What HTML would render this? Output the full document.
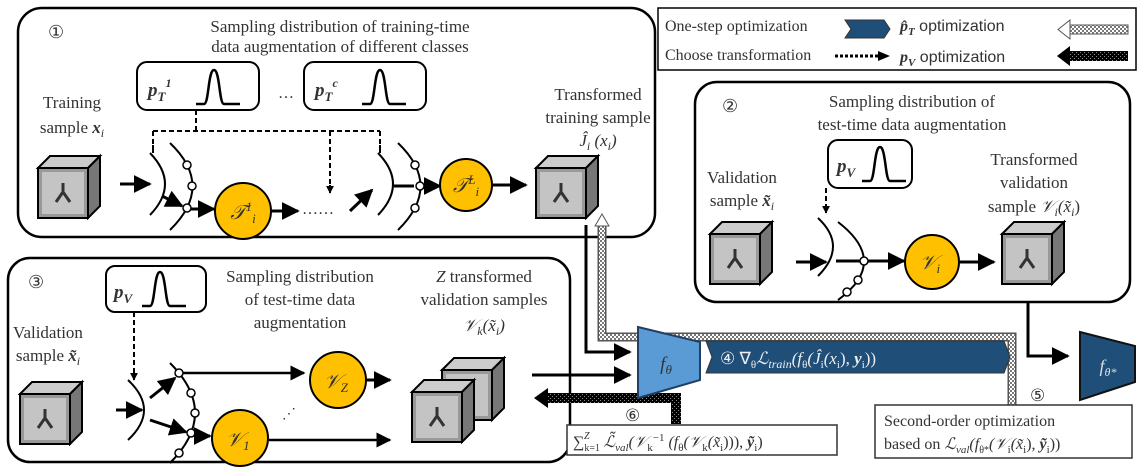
<!DOCTYPE html>
<html><head><meta charset="utf-8"><style>
body{margin:0;background:#fff}
svg{display:block}
text{font-family:"Liberation Serif",serif;fill:#333}
.m{font-style:italic}
</style></head><body>
<svg width="1140" height="469" viewBox="0 0 1140 469" xmlns="http://www.w3.org/2000/svg">
<defs>
<marker id="a" viewBox="0 0 10 10" refX="9" refY="5" markerWidth="4" markerHeight="4" orient="auto"><path d="M0,0L10,5L0,10z" fill="#000"/></marker>
<marker id="s" viewBox="0 0 10 10" refX="9" refY="5" markerWidth="6" markerHeight="6" orient="auto"><path d="M0,0L10,5L0,10z" fill="#000"/></marker>
<pattern id="h" width="4" height="4" patternUnits="userSpaceOnUse"><rect width="4" height="4" fill="#fff"/><rect width="2" height="2" fill="#777"/><rect x="2" y="2" width="2" height="2" fill="#777"/></pattern>
<pattern id="k" width="4" height="4" patternUnits="userSpaceOnUse"><rect width="4" height="4" fill="#000"/><rect width="1" height="1" fill="#888"/><rect x="2" y="2" width="1" height="1" fill="#888"/></pattern>
<g id="cube">
<path d="M0,12L12,0H62L50,12z" fill="#ccc" stroke="#000" stroke-width="2"/>
<path d="M50,12L62,0V50L50,62z" fill="#777" stroke="#000" stroke-width="2"/>
<rect x="0" y="12" width="50" height="50" fill="#999" stroke="#000" stroke-width="2"/>
<rect x="4" y="16" width="42" height="42" fill="#c4c4c4"/>
<path d="M25,36 l-7,10 M25,36 l7,10 M25,36 v-9" stroke="#333" stroke-width="3"/>
</g>
<g id="dist"><path d="M0,34 H8 C13,34 12,0 18,0 C24,0 23,34 28,34 H44" fill="none" stroke="#000" stroke-width="2.5"/></g>
</defs>

<!-- Box 1 -->
<rect x="18" y="8" width="637" height="229" rx="24" fill="none" stroke="#000" stroke-width="2.5"/>
<text x="48" y="38" font-size="18">①</text>
<text x="340" y="32" font-size="17" text-anchor="middle">Sampling distribution of training-time</text>
<text x="340" y="52" font-size="17" text-anchor="middle">data augmentation of different classes</text>
<rect x="137" y="62" width="122" height="48" rx="10" fill="#fff" stroke="#000" stroke-width="2"/>
<text x="148" y="96" font-size="19" class="m" font-weight="bold">p<tspan font-size="13" dy="5">T</tspan><tspan font-size="12" dy="-14">1</tspan></text>
<use href="#dist" x="196" y="70"/>
<text x="278" y="98" font-size="16">…</text>
<rect x="304" y="62" width="122" height="48" rx="10" fill="#fff" stroke="#000" stroke-width="2"/>
<text x="315" y="96" font-size="19" class="m" font-weight="bold">p<tspan font-size="13" dy="5">T</tspan><tspan font-size="12" dy="-14">c</tspan></text>
<use href="#dist" x="362" y="70"/>
<text x="72" y="108" font-size="17" text-anchor="middle">Training</text>
<text x="72" y="133" font-size="17" text-anchor="middle">sample <tspan class="m" font-weight="bold">x</tspan><tspan class="m" font-size="12" dy="4">i</tspan></text>
<text x="598" y="100" font-size="17" text-anchor="middle">Transformed</text>
<text x="598" y="123" font-size="17" text-anchor="middle">training sample</text>
<text x="598" y="146" font-size="17" text-anchor="middle" class="m">Ĵ<tspan font-size="12" dy="4">i</tspan><tspan dy="-4"> (x</tspan><tspan font-size="12" dy="4">i</tspan><tspan dy="-4">)</tspan></text>
<use href="#cube" x="38" y="156"/>
<use href="#cube" x="536" y="156"/>
<path d="M196,110V131M153,131H380M153,131V150M380,131V150M330,131V190" stroke="#000" stroke-width="2" stroke-dasharray="5,3" fill="none"/>
<path d="M153,145v8M380,145v8M330,185v8" stroke="#000" stroke-width="2" marker-end="url(#a)"/>
<!-- switch 1 -->
<path d="M150,153 Q180,184 150,215" fill="none" stroke="#000" stroke-width="2"/>
<path d="M170,143 Q215,186 170,230" fill="none" stroke="#000" stroke-width="2"/>
<circle cx="187" cy="165" r="4" fill="#fff" stroke="#000" stroke-width="1.5"/>
<circle cx="192" cy="186" r="4" fill="#fff" stroke="#000" stroke-width="1.5"/>
<circle cx="187" cy="208" r="4" fill="#fff" stroke="#000" stroke-width="1.5"/>
<path d="M120,184H150" stroke="#000" stroke-width="3" marker-end="url(#s)"/>
<path d="M162,196L182,206" stroke="#000" stroke-width="3" marker-end="url(#s)"/>
<path d="M191,209H214" stroke="#000" stroke-width="3" marker-end="url(#s)"/>
<circle cx="243" cy="211" r="28" fill="#ffc000" stroke="#000" stroke-width="2"/>
<text x="243" y="219" font-size="20" class="m" text-anchor="middle">𝒯<tspan font-size="13" dy="-8">1</tspan><tspan font-size="13" dy="12">i</tspan></text>
<path d="M272,211H298" stroke="#000" stroke-width="3" marker-end="url(#s)"/>
<text x="302" y="214" font-size="16">……</text>
<path d="M350,211L372,190" stroke="#000" stroke-width="3" marker-end="url(#s)"/>
<!-- switch 2 -->
<path d="M378,153 Q408,184 378,215" fill="none" stroke="#000" stroke-width="2"/>
<path d="M398,143 Q443,186 398,230" fill="none" stroke="#000" stroke-width="2"/>
<circle cx="415" cy="165" r="4" fill="#fff" stroke="#000" stroke-width="1.5"/>
<circle cx="420" cy="186" r="4" fill="#fff" stroke="#000" stroke-width="1.5"/>
<circle cx="415" cy="208" r="4" fill="#fff" stroke="#000" stroke-width="1.5"/>
<path d="M394,186H414M424,186H440" stroke="#000" stroke-width="3" marker-end="url(#s)"/>
<circle cx="466" cy="185" r="26" fill="#ffc000" stroke="#000" stroke-width="2"/>
<text x="466" y="192" font-size="20" class="m" text-anchor="middle">𝒯<tspan font-size="13" dy="-8">L</tspan><tspan font-size="13" dy="12">i</tspan></text>
<path d="M493,185H526" stroke="#000" stroke-width="3" marker-end="url(#s)"/>

<!-- Legend -->
<rect x="658" y="8" width="478" height="62" fill="#fff" stroke="#000" stroke-width="1.5"/>
<text x="665" y="31" font-size="16" font-family="Liberation Sans">One-step optimization</text>
<path d="M845,20H884L890,29L884,38H845L851,29z" fill="#1f4e79" stroke="#333"/>
<text x="900" y="31" font-size="16" class="m" font-weight="bold">p̂<tspan font-size="11" dy="4">T</tspan><tspan font-style="normal" font-weight="normal" dy="-4" font-family="Liberation Sans"> optimization</tspan></text>
<rect x="1070" y="25" width="58" height="9" fill="url(#h)" stroke="#555"/>
<path d="M1070,20L1058,29.5L1070,39z" fill="#fff" stroke="#555"/>
<text x="665" y="60" font-size="16" font-family="Liberation Sans">Choose transformation</text>
<path d="M835,56H878" stroke="#000" stroke-width="3" stroke-dasharray="3,2"/>
<path d="M878,51L890,56L878,61z" fill="#000"/>
<text x="900" y="62" font-size="16" class="m" font-weight="bold">p<tspan font-size="11" dy="4">V</tspan><tspan font-style="normal" font-weight="normal" dy="-4" font-family="Liberation Sans"> optimization</tspan></text>
<rect x="1070" y="51" width="58" height="10" fill="url(#k)"/>
<path d="M1070,46L1057,56L1070,66z" fill="#000"/>

<!-- Box 2 -->
<rect x="695" y="82" width="435" height="220" rx="22" fill="none" stroke="#000" stroke-width="2.5"/>
<text x="722" y="112" font-size="18">②</text>
<text x="912" y="107" font-size="17" text-anchor="middle">Sampling distribution of</text>
<text x="912" y="130" font-size="17" text-anchor="middle">test-time data augmentation</text>
<rect x="828" y="140" width="84" height="48" rx="10" fill="#fff" stroke="#000" stroke-width="2"/>
<text x="837" y="172" font-size="19" class="m" font-weight="bold">p<tspan font-size="13" dy="5">V</tspan></text>
<use href="#dist" x="862" y="147"/>
<text x="742" y="183" font-size="17" text-anchor="middle">Validation</text>
<text x="742" y="206" font-size="17" text-anchor="middle">sample <tspan class="m" font-weight="bold">x̃</tspan><tspan class="m" font-size="12" dy="4">i</tspan></text>
<text x="1034" y="165" font-size="17" text-anchor="middle">Transformed</text>
<text x="1034" y="188" font-size="17" text-anchor="middle">validation</text>
<text x="1034" y="212" font-size="17" text-anchor="middle">sample <tspan class="m">𝒱</tspan><tspan class="m" font-size="12" dy="4">i</tspan><tspan class="m" dy="-4">(x̃</tspan><tspan class="m" font-size="12" dy="4">i</tspan><tspan dy="-4">)</tspan></text>
<use href="#cube" x="710" y="222"/>
<use href="#cube" x="1002" y="222"/>
<path d="M826,188V208" stroke="#000" stroke-width="2" stroke-dasharray="5,3"/>
<path d="M826,205v8" stroke="#000" stroke-width="2" marker-end="url(#a)"/>
<path d="M818,218 Q848,246 818,276" fill="none" stroke="#000" stroke-width="2"/>
<path d="M838,222 Q890,262 838,300" fill="none" stroke="#000" stroke-width="2"/>
<circle cx="864" cy="261" r="4" fill="#fff" stroke="#000" stroke-width="1.5"/>
<circle cx="858" cy="280" r="4" fill="#fff" stroke="#000" stroke-width="1.5"/>
<circle cx="847" cy="292" r="4" fill="#fff" stroke="#000" stroke-width="1.5"/>
<path d="M796,262H826" stroke="#000" stroke-width="3" marker-end="url(#s)"/>
<path d="M836,261H860M868,261H904" stroke="#000" stroke-width="3" marker-end="url(#s)"/>
<circle cx="932" cy="262" r="27" fill="#ffc000" stroke="#000" stroke-width="2"/>
<text x="930" y="269" font-size="20" class="m" text-anchor="middle">𝒱<tspan font-size="13" dy="4">i</tspan></text>
<path d="M960,262H994" stroke="#000" stroke-width="3" marker-end="url(#s)"/>

<!-- Box 3 -->
<rect x="8" y="258" width="562" height="204" rx="22" fill="none" stroke="#000" stroke-width="2.5"/>
<text x="28" y="288" font-size="18">③</text>
<rect x="106" y="266" width="100" height="46" rx="9" fill="#fff" stroke="#000" stroke-width="2"/>
<text x="114" y="298" font-size="19" class="m" font-weight="bold">p<tspan font-size="13" dy="5">V</tspan></text>
<use href="#dist" x="142" y="272"/>
<text x="300" y="282" font-size="17" text-anchor="middle">Sampling distribution</text>
<text x="300" y="305" font-size="17" text-anchor="middle">of test-time data</text>
<text x="300" y="328" font-size="17" text-anchor="middle">augmentation</text>
<text x="484" y="282" font-size="17" text-anchor="middle"><tspan class="m">Z</tspan> transformed</text>
<text x="484" y="305" font-size="17" text-anchor="middle">validation samples</text>
<text x="484" y="331" font-size="17" text-anchor="middle" class="m">𝒱<tspan font-size="12" dy="4">k</tspan><tspan dy="-4">(x̃</tspan><tspan font-size="12" dy="4">i</tspan><tspan dy="-4">)</tspan></text>
<text x="48" y="338" font-size="17" text-anchor="middle">Validation</text>
<text x="48" y="361" font-size="17" text-anchor="middle">sample <tspan class="m" font-weight="bold">x̃</tspan><tspan class="m" font-size="12" dy="4">i</tspan></text>
<use href="#cube" x="20" y="382"/>
<use href="#cube" x="442" y="358"/>
<use href="#cube" x="412" y="380"/>
<path d="M134,312V375" stroke="#000" stroke-width="2" stroke-dasharray="5,3"/>
<path d="M134,372v8" stroke="#000" stroke-width="2" marker-end="url(#a)"/>
<path d="M128,380 Q160,410 128,440" fill="none" stroke="#000" stroke-width="2"/>
<path d="M170,363 Q220,413 170,463" fill="none" stroke="#000" stroke-width="2"/>
<circle cx="179" cy="373" r="4" fill="#fff" stroke="#000" stroke-width="1.5"/>
<circle cx="191" cy="393" r="4" fill="#fff" stroke="#000" stroke-width="1.5"/>
<circle cx="195" cy="413" r="4" fill="#fff" stroke="#000" stroke-width="1.5"/>
<circle cx="191" cy="433" r="4" fill="#fff" stroke="#000" stroke-width="1.5"/>
<circle cx="179" cy="453" r="4" fill="#fff" stroke="#000" stroke-width="1.5"/>
<path d="M116,410H142" stroke="#000" stroke-width="3" marker-end="url(#s)"/>
<path d="M150,398L175,378" stroke="#000" stroke-width="3" marker-end="url(#s)"/>
<path d="M150,420L186,432" stroke="#000" stroke-width="3" marker-end="url(#s)"/>
<path d="M183,373H304" stroke="#000" stroke-width="2.5" marker-end="url(#s)"/>
<circle cx="338" cy="380" r="28" fill="#ffc000" stroke="#000" stroke-width="2"/>
<text x="336" y="388" font-size="20" class="m" text-anchor="middle">𝒱<tspan font-size="13" dy="4">Z</tspan></text>
<path d="M367,380H390" stroke="#000" stroke-width="3" marker-end="url(#s)"/>
<path d="M195,436H210" stroke="#000" stroke-width="3" marker-end="url(#s)"/>
<circle cx="240" cy="438" r="28" fill="#ffc000" stroke="#000" stroke-width="2"/>
<text x="238" y="446" font-size="20" class="m" text-anchor="middle">𝒱<tspan font-size="13" dy="4">1</tspan></text>
<path d="M269,440H390" stroke="#000" stroke-width="2.5" marker-end="url(#s)"/>
<text x="282" y="418" font-size="14">⋰</text>

<!-- connectors -->
<path d="M586,225V352H630" fill="none" stroke="#000" stroke-width="3" marker-end="url(#s)"/>
<path d="M532,375H630" fill="none" stroke="#000" stroke-width="3" marker-end="url(#s)"/>
<path d="M1028,302V356H1068" fill="none" stroke="#000" stroke-width="3" marker-end="url(#s)"/>
<path d="M602,226V337H1012V405" fill="none" stroke="#555" stroke-width="9"/>
<path d="M602,226V337H1012V405" fill="none" stroke="url(#h)" stroke-width="6"/>
<path d="M595,226L602,214L609,226z" fill="#fff" stroke="#555"/>
<path d="M548,398H676V424" fill="none" stroke="url(#k)" stroke-width="10"/>
<path d="M548,388L534,398L548,408z" fill="#000"/>
<path d="M638,327L700,342V380L638,398z" fill="#5b9bd5" stroke="#1f3f66" stroke-width="2"/>
<text x="666" y="370" font-size="19" class="m" text-anchor="middle" fill="#222">f<tspan font-size="13" dy="4">θ</tspan></text>
<path d="M706,341H1004L1010,357L1004,373H706L712,357z" fill="#1f4e79" stroke="#333"/>
<text x="720" y="364" font-size="17" style="fill:#eee">④ ∇<tspan font-size="11" dy="4">θ</tspan><tspan dy="-4" class="m">ℒ</tspan><tspan class="m" font-size="12" dy="4">train</tspan><tspan dy="-4" class="m">(f</tspan><tspan font-size="11" dy="4">θ</tspan><tspan dy="-4" class="m">(Ĵ</tspan><tspan font-size="11" dy="4">i</tspan><tspan dy="-4" class="m">(x</tspan><tspan font-size="11" dy="4">i</tspan><tspan dy="-4">), </tspan><tspan class="m" font-weight="bold">y</tspan><tspan font-size="11" dy="4">i</tspan><tspan dy="-4">))</tspan></text>
<path d="M1080,332L1135,346V382L1080,400z" fill="#1f4e79" stroke="#111" stroke-width="2"/>
<text x="1108" y="372" font-size="18" class="m" text-anchor="middle" style="fill:#ddd">f<tspan font-size="12" dy="4">θ*</tspan></text>
<text x="1030" y="401" font-size="17">⑤</text>
<rect x="875" y="405" width="257" height="53" fill="#fff" stroke="#333" stroke-width="1.5"/>
<text x="884" y="426" font-size="16">Second-order optimization</text>
<text x="884" y="449" font-size="16">based on <tspan class="m">ℒ</tspan><tspan class="m" font-size="11" dy="4">val</tspan><tspan dy="-4" class="m">(f</tspan><tspan font-size="10" dy="4">θ*</tspan><tspan dy="-4" class="m">(𝒱</tspan><tspan font-size="11" dy="4">i</tspan><tspan dy="-4" class="m">(x̃</tspan><tspan font-size="11" dy="4">i</tspan><tspan dy="-4">), </tspan><tspan class="m" font-weight="bold">ỹ</tspan><tspan font-size="11" dy="4">i</tspan><tspan dy="-4">))</tspan></text>
<text x="625" y="421" font-size="17">⑥</text>
<rect x="567" y="425" width="270" height="30" fill="#fff" stroke="#333" stroke-width="1.5"/>
<text x="573" y="447" font-size="16">∑<tspan font-size="10" dy="4">k=1</tspan><tspan font-size="10" dx="-16" dy="-12" class="m">Z</tspan><tspan dx="10" dy="8" class="m"> ℒ̃</tspan><tspan class="m" font-size="11" dy="4">val</tspan><tspan dy="-4" class="m">(𝒱</tspan><tspan font-size="11" dy="4">k</tspan><tspan font-size="11" dy="-10">−1</tspan><tspan dy="6" class="m"> (f</tspan><tspan font-size="11" dy="4">θ</tspan><tspan dy="-4" class="m">(𝒱</tspan><tspan font-size="11" dy="4">k</tspan><tspan dy="-4" class="m">(x̃</tspan><tspan font-size="11" dy="4">i</tspan><tspan dy="-4">))), </tspan><tspan class="m" font-weight="bold">ỹ</tspan><tspan font-size="11" dy="4">i</tspan><tspan dy="-4">)</tspan></text>
</svg>
</body></html>
